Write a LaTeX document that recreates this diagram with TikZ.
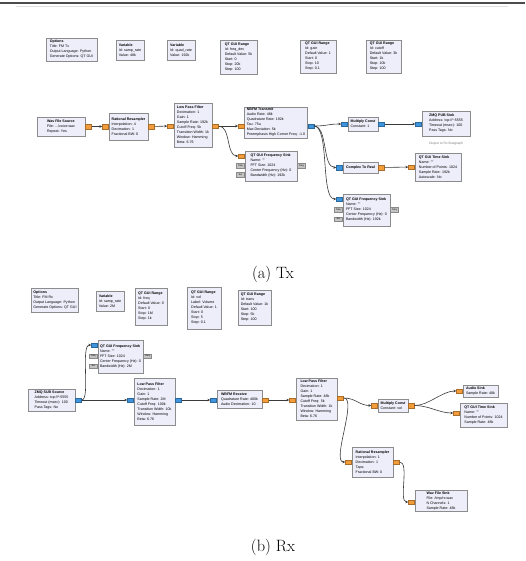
\documentclass[tikz,border=0pt]{standalone}
\usepackage{fontspec}
\newfontfamily\grcfont{Liberation Sans}
\usetikzlibrary{arrows.meta, positioning}
\definecolor{blkfill}{HTML}{EEEEFA}
\definecolor{blkline}{HTML}{8C8C8C}
\definecolor{flt}{HTML}{F39C3A}
\definecolor{cpx}{HTML}{3E95DD}
\definecolor{msg}{HTML}{C4C4C4}
\definecolor{wirecol}{HTML}{3A3A3A}
\newcommand{\blkname}[1]{\null\hfill\textbf{#1}\hfill\null}

\begin{document}
\begin{tikzpicture}[
    x=1pt, y=-1pt,
    blk/.style 2 args={draw=blkline, fill=blkfill, line width=0.8pt, minimum width=#1, minimum height=#2,
                inner xsep=2pt, inner ysep=1pt, align=left, font=\grcfont\fontsize{3.6}{5}\selectfont},
    prt/.style={draw=#1!70!black, fill=#1, line width=0.3pt, minimum width=6pt, minimum height=4.5pt, inner sep=0pt},
    mprt/.style={prt=msg, minimum width=8pt, font=\grcfont\fontsize{2.4}{2.4}\selectfont},
    wire/.style={-{Stealth[length=3pt, width=2.6pt]}, wirecol, line width=0.6pt},
    note/.style={font=\grcfont\fontsize{3.3}{4}\selectfont, text=gray},
    capt/.style={font=\fontsize{16.4}{19}\selectfont, anchor=base},
]
\useasboundingbox (0,0) rectangle (525,561);
\fill[white] (0,0) rectangle (525,561);
\draw[gray!60!black, line width=1.3pt] (0,3) -- (525,3);
\draw[gray!25, line width=0.4pt] (16,6.5) -- (508,6.5);

% ---------------- Tx flowgraph ----------------
% Variables
\node[blk={51}{23}] (optTx)  at (71.5,49.5) {\blkname{Options}\\Title: FM Tx\\Output Language: Python\\Generate Options: QT GUI};
\node[blk={28}{20}] (varTxA) at (130,50)    {\blkname{Variable}\\Id: samp\_rate\\Value: 48k};
\node[blk={28}{20}] (varTxB) at (181,50)    {\blkname{Variable}\\Id: quad\_rate\\Value: 192k};
\node[blk={37}{34}] (rngTxA) at (238.5,57)  {\blkname{QT GUI Range}\\Id: freq\_dev\\Default Value: 5k\\Start: 0\\Stop: 20k\\Step: 100};
\node[blk={36}{33}] (rngTxB) at (318,56.5)  {\blkname{QT GUI Range}\\Id: gain\\Default Value: 1\\Start: 0\\Stop: 10\\Step: 0.1};
\node[blk={35}{33}] (rngTxC) at (383.5,56.5){\blkname{QT GUI Range}\\Id: cutoff\\Default Value: 3k\\Start: 1k\\Stop: 10k\\Step: 100};

% Processing blocks
\node[blk={48}{19}] (wavSrc) at (61,126.5)  {\blkname{Wav File Source}\\File: .../voice.wav\\Repeat: Yes};
\node[blk={39}{27}] (resTx)  at (128.5,126.5) {\blkname{Rational Resampler}\\Interpolation: 4\\Decimation: 1\\Fractional BW: 0};
\node[blk={38}{44}] (lpfTx)  at (193,125)   {\blkname{Low Pass Filter}\\Decimation: 1\\Gain: 1\\Sample Rate: 192k\\Cutoff Freq: 5k\\Transition Width: 1k\\Window: Hamming\\Beta: 6.76};
\node[blk={62}{31}] (nbfmTx) at (276,122.5) {\blkname{NBFM Transmit}\\Audio Rate: 48k\\Quadrature Rate: 192k\\Tau: 75u\\Max Deviation: 5k\\Preemphasis High Corner Freq: -1.0};
\node[blk={30}{14}] (mulTx)  at (363,124)   {\blkname{Multiply Const}\\Constant: 1};
\node[blk={48}{25}] (snkTx)  at (446,123.5) {\blkname{ZMQ PUB Sink}\\Address: tcp://*:5555\\Timeout (msec): 100\\Pass Tags: No};
\node[note, below=2pt of snkTx] (snkTxNote) {Output to Rx flowgraph};
\node[blk={52}{30}] (fsnkTxA) at (271,166)  {\blkname{QT GUI Frequency Sink}\\Name: ""\\FFT Size: 1024\\Center Frequency (Hz): 0\\Bandwidth (Hz): 192k};
\node[blk={35}{11}] (c2r)    at (360.5,167.5) {\blkname{Complex To Real}};
\node[blk={46}{28}] (tsnkTx) at (438,167)   {\blkname{QT GUI Time Sink}\\Name: ""\\Number of Points: 1024\\Sample Rate: 192k\\Autoscale: No};
\node[blk={47}{32}] (fsnkTxB) at (366.5,210) {\blkname{QT GUI Frequency Sink}\\Name: ""\\FFT Size: 1024\\Center Frequency (Hz): 0\\Bandwidth (Hz): 192k};

% Ports
\node[prt=flt, anchor=west] (wavSrc-o) at (wavSrc.east |- 0,126.5) {};
\node[prt=flt, anchor=east] (resTx-i)  at (resTx.west |- 0,126.5) {};
\node[prt=flt, anchor=west] (resTx-o)  at (resTx.east |- 0,126.5) {};
\node[prt=flt, anchor=east] (lpfTx-i)  at (lpfTx.west |- 0,126) {};
\node[prt=flt, anchor=west] (lpfTx-o)  at (lpfTx.east |- 0,126) {};
\node[prt=flt, anchor=east] (nbfmTx-i) at (nbfmTx.west |- 0,126) {};
\node[prt=cpx, anchor=west] (nbfmTx-o) at (nbfmTx.east |- 0,126) {};
\node[prt=cpx, anchor=east] (mulTx-i)  at (mulTx.west |- 0,124) {};
\node[prt=cpx, anchor=west] (mulTx-o)  at (mulTx.east |- 0,124) {};
\node[prt=cpx, anchor=east] (snkTx-i)  at (snkTx.west |- 0,124) {};
\node[prt=cpx, anchor=east] (c2r-i)    at (c2r.west |- 0,167.5) {};
\node[prt=flt, anchor=west] (c2r-o)    at (c2r.east |- 0,167.5) {};
\node[prt=flt, anchor=east] (tsnkTx-i) at (tsnkTx.west |- 0,167) {};
\node[prt=flt, anchor=east] (fsnkTxA-i) at (fsnkTxA.west |- 0,156) {};
\node[mprt, anchor=east] (fsnkTxA-f) at (fsnkTxA.west |- 0,165.5) {freq};
\node[mprt, anchor=east] (fsnkTxA-b) at (fsnkTxA.west |- 0,174.5) {bw};
\node[mprt, anchor=west] (fsnkTxA-fo) at (fsnkTxA.east |- 0,165.5) {freq};
\node[prt=cpx, anchor=east] (fsnkTxB-i) at (fsnkTxB.west |- 0,199) {};
\node[mprt, anchor=east] (fsnkTxB-f) at (fsnkTxB.west |- 0,209.5) {freq};
\node[mprt, anchor=east] (fsnkTxB-b) at (fsnkTxB.west |- 0,219) {bw};
\node[mprt, anchor=west] (fsnkTxB-fo) at (fsnkTxB.east |- 0,209.5) {freq};

% Connections
\draw[wire] (wavSrc-o) -- (resTx-i);
\draw[wire] (resTx-o) -- (lpfTx-i);
\draw[wire] (lpfTx-o) -- (nbfmTx-i);
\draw[wire] (lpfTx-o.east) .. controls +(12,0) and +(-12,0) .. (fsnkTxA-i.west);
\draw[wire] (nbfmTx-o.east) .. controls +(14,0) and +(-14,0) .. (mulTx-i.west);
\draw[wire] (nbfmTx-o.east) .. controls +(14,0) and +(-14,0) .. (c2r-i.west);
\draw[wire] (nbfmTx-o.east) .. controls +(16,0) and +(-16,0) .. (fsnkTxB-i.west);
\draw[wire] (mulTx-o) -- (snkTx-i);
\draw[wire] (c2r-o) -- (tsnkTx-i);

\node[capt] (capTx) at (273,278) {(a) Tx};

% ---------------- Rx flowgraph ----------------
% Variables
\node[blk={46}{24}] (optRx)  at (55,300)    {\blkname{Options}\\Title: FM Rx\\Output Language: Python\\Generate Options: QT GUI};
\node[blk={28}{20}] (varRx)  at (110,301)   {\blkname{Variable}\\Id: samp\_rate\\Value: 2M};
\node[blk={32}{37}] (rngRxA) at (151,306.5) {\blkname{QT GUI Range}\\Id: freq\\Default Value: 0\\Start: 0\\Stop: 1M\\Step: 1k};
\node[blk={34}{42}] (rngRxB) at (204,308)   {\blkname{QT GUI Range}\\Id: vol\\Label: Volume\\Default Value: 1\\Start: 0\\Stop: 5\\Step: 0.1};
\node[blk={33}{35}] (rngRxC) at (254.5,307.5) {\blkname{QT GUI Range}\\Id: trans\\Default Value: 1k\\Start: 100\\Stop: 5k\\Step: 100};

% Processing blocks
\node[blk={45}{33}] (fsnkRx) at (120.5,356.5) {\blkname{QT GUI Frequency Sink}\\Name: ""\\FFT Size: 1024\\Center Frequency (Hz): 0\\Bandwidth (Hz): 2M};
\node[blk={47}{22}] (srcRx)  at (51.5,400)  {\blkname{ZMQ SUB Source}\\Address: tcp://*:5555\\Timeout (msec): 100\\Pass Tags: No};
\node[blk={41}{47}] (lpfRxA) at (154.5,401.5) {\blkname{Low Pass Filter}\\Decimation: 1\\Gain: 1\\Sample Rate: 2M\\Cutoff Freq: 100k\\Transition Width: 10k\\Window: Hamming\\Beta: 6.76};
\node[blk={45}{18}] (fmRx)   at (239.5,399) {\blkname{WBFM Receive}\\Quadrature Rate: 480k\\Audio Decimation: 10};
\node[blk={41}{42}] (lpfRxB) at (316.5,399) {\blkname{Low Pass Filter}\\Decimation: 1\\Gain: 1\\Sample Rate: 48k\\Cutoff Freq: 5k\\Transition Width: 1k\\Window: Hamming\\Beta: 6.76};
\node[blk={30}{13}] (mulRx)  at (393,405.5) {\blkname{Multiply Const}\\Constant: vol};
\node[blk={35}{12}] (audRx)  at (480.5,391) {\blkname{Audio Sink}\\Sample Rate: 48k};
\node[blk={47}{24}] (tsnkRx) at (483.5,415) {\blkname{QT GUI Time Sink}\\Name: ""\\Number of Points: 1024\\Sample Rate: 48k};
\node[blk={41}{30}] (resRx)  at (372.5,462) {\blkname{Rational Resampler}\\Interpolation: 1\\Decimation: 1\\Taps:\\Fractional BW: 0};
\node[blk={52}{20}] (wavSnk) at (441,501)   {\blkname{Wav File Sink}\\File: /tmp/rx.wav\\N Channels: 1\\Sample Rate: 48k};

% Ports
\node[prt=cpx, anchor=west] (srcRx-o)  at (srcRx.east |- 0,400) {};
\node[prt=cpx, anchor=east] (fsnkRx-i) at (fsnkRx.west |- 0,345) {};
\node[mprt, anchor=east] (fsnkRx-f)  at (fsnkRx.west |- 0,356) {freq};
\node[mprt, anchor=east] (fsnkRx-b)  at (fsnkRx.west |- 0,366) {bw};
\node[mprt, anchor=west] (fsnkRx-fo) at (fsnkRx.east |- 0,356) {freq};
\node[prt=cpx, anchor=east] (lpfRxA-i) at (lpfRxA.west |- 0,400) {};
\node[prt=cpx, anchor=west] (lpfRxA-o) at (lpfRxA.east |- 0,400) {};
\node[prt=cpx, anchor=east] (fmRx-i)   at (fmRx.west |- 0,400) {};
\node[prt=flt, anchor=west] (fmRx-o)   at (fmRx.east |- 0,400) {};
\node[prt=flt, anchor=east] (lpfRxB-i) at (lpfRxB.west |- 0,400) {};
\node[prt=flt, anchor=west] (lpfRxB-o) at (lpfRxB.east |- 0,398) {};
\node[prt=flt, anchor=east] (mulRx-i)  at (mulRx.west |- 0,405.5) {};
\node[prt=flt, anchor=west] (mulRx-o)  at (mulRx.east |- 0,405.5) {};
\node[prt=flt, anchor=east] (audRx-i)  at (audRx.west |- 0,391) {};
\node[prt=flt, anchor=east] (tsnkRx-i) at (tsnkRx.west |- 0,413) {};
\node[prt=flt, anchor=east] (resRx-i)  at (resRx.west |- 0,462) {};
\node[prt=flt, anchor=west] (resRx-o)  at (resRx.east |- 0,462) {};
\node[prt=flt, anchor=east] (wavSnk-i) at (wavSnk.west |- 0,502) {};

% Connections
\draw[wire] (srcRx-o) -- (lpfRxA-i);
\draw[wire] (srcRx-o.east) .. controls +(9,0) and +(-11,0) .. (fsnkRx-i.west);
\draw[wire] (lpfRxA-o) -- (fmRx-i);
\draw[wire] (fmRx-o) -- (lpfRxB-i);
\draw[wire] (lpfRxB-o.east) .. controls +(12,0) and +(-12,0) .. (mulRx-i.west);
\draw[wire] (lpfRxB-o.east) .. controls +(14,0) and +(-14,0) .. (resRx-i.west);
\draw[wire] (mulRx-o.east) .. controls +(14,0) and +(-14,0) .. (audRx-i.west);
\draw[wire] (mulRx-o.east) .. controls +(14,0) and +(-14,0) .. (tsnkRx-i.west);
\draw[wire] (resRx-o.east) .. controls +(10,0) and +(-10,0) .. (wavSnk-i.west);

\node[capt] (capRx) at (273,551) {(b) Rx};
\end{tikzpicture}
\end{document}
